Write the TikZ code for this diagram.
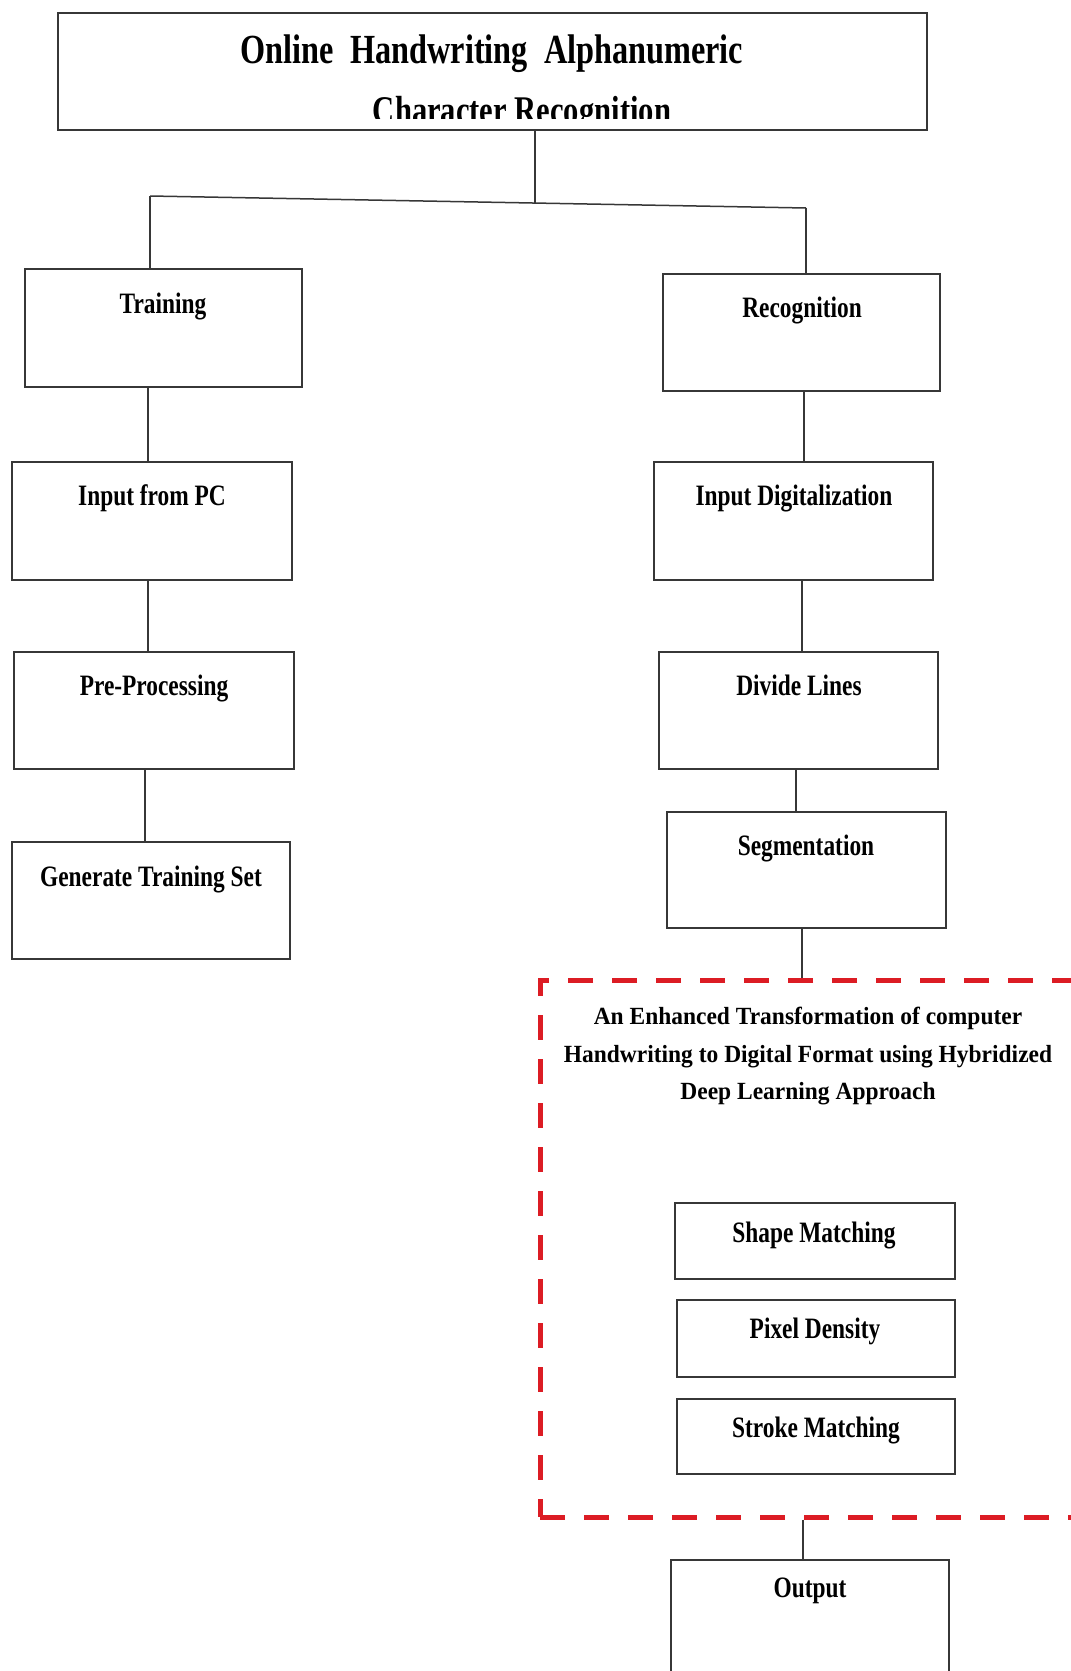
\documentclass[tikz,border=0pt]{standalone}
\usepackage{fontspec}
\setmainfont{Liberation Serif}
\newfontfamily\headfont[FakeStretch=0.78]{Liberation Serif}
\newfontfamily\boxfont[FakeStretch=0.79]{Liberation Serif}
\newfontfamily\notefont[FakeStretch=0.95]{Liberation Serif}
\usetikzlibrary{fit,positioning}
\definecolor{dashred}{RGB}{220,28,36}
\definecolor{linegray}{RGB}{55,55,55}

\begin{document}
\begin{tikzpicture}[x=0.5pt, y=-0.5pt,
  box/.style={draw=linegray, line width=1.1pt, fill=white, inner sep=0pt},
  conn/.style={draw=linegray, line width=0.75pt},
  lbl/.style={font=\boxfont\bfseries\fontsize{14.8}{17}\selectfont, anchor=base, inner sep=0pt},
  headtxt/.style={font=\headfont\bfseries\fontsize{20.7}{24}\selectfont, anchor=base, inner sep=0pt},
  notetxt/.style={font=\notefont\bfseries\fontsize{12.35}{15}\selectfont, anchor=base, inner sep=0pt},
  enhbox/.style={draw=dashred, line width=2.5pt, dash pattern=on 12.5pt off 9.5pt, inner sep=0pt}]
  \useasboundingbox[fill=white] (0,0) rectangle (1071,1671);

  % title
  \node[box, line width=1.3pt, fit={(58,13) (927,130)}] (title) {};
  \node[headtxt] (title1) at (492,63) {Online\ \ Handwriting\ \ Alphanumeric};
  \begin{scope}
    \clip (58,13) rectangle (927,118);
    \node[headtxt, font=\headfont\bfseries\fontsize{19.6}{23}\selectfont] (title2) at (522,123) {Character Recognition};
  \end{scope}

  % training side
  \node[box, fit={(25,269) (302,387)}] (train) {};
  \node[box, fit={(12,462) (292,580)}] (inpc) {};
  \node[box, fit={(14,652) (294,769)}] (prep) {};
  \node[box, fit={(12,842) (290,959)}] (gen) {};

  % recognition side
  \node[box, fit={(663,274) (940,391)}] (recog) {};
  \node[box, fit={(654,462) (933,580)}] (indig) {};
  \node[box, fit={(659,652) (938,769)}] (divl) {};
  \node[box, fit={(667,812) (946,928)}] (seg) {};

  % hybrid block
  \node[enhbox, fit={(540,980) (1090,1517)}] (enh) {};
  \node[box, fit={(675,1203) (955,1279)}] (shape) {};
  \node[box, fit={(677,1300) (955,1377)}] (pixel) {};
  \node[box, fit={(677,1399) (955,1474)}] (stroke) {};
  \node[box, fit={(671,1560) (949,1680)}] (outp) {};

  % labels
  \foreach \n/\x/\y/\t in {train/163/313/Training, inpc/152/505/Input from PC,
      prep/154/695/Pre-Processing, gen/151/886/Generate Training Set,
      recog/802/317/Recognition, indig/794/505/Input Digitalization,
      divl/799/695/Divide Lines, seg/806/855/Segmentation,
      shape/814/1242/Shape Matching, pixel/815/1338/Pixel Density,
      stroke/816/1437/Stroke Matching, outp/810/1597/Output}
    \node[lbl] (\n-t) at (\x,\y) {\t};

  \node[notetxt] (enh-t1) at (808,1024) {An Enhanced Transformation of computer};
  \node[notetxt] (enh-t2) at (808,1062) {Handwriting to Digital Format using Hybridized};
  \node[notetxt] (enh-t3) at (808,1099) {Deep Learning Approach};

  % connectors
  \coordinate (jl) at (150,196);
  \coordinate (jm) at (535,203);
  \coordinate (jr) at (806,208);
  \draw[conn] (title.south -| jm) -- (jm);
  \draw[conn] (jl) -- (jr);
  \draw[conn] (jl) -- (jl |- train.north);
  \draw[conn] (jr) -- (jr |- recog.north);
  \foreach \a/\b/\x in {train/inpc/148, inpc/prep/148, prep/gen/145,
      recog/indig/804, indig/divl/802, divl/seg/796, seg/enh/802, enh/outp/803}
    \draw[conn] (\a.south -| \x,0) -- (\b.north -| \x,0);
\end{tikzpicture}
\end{document}
